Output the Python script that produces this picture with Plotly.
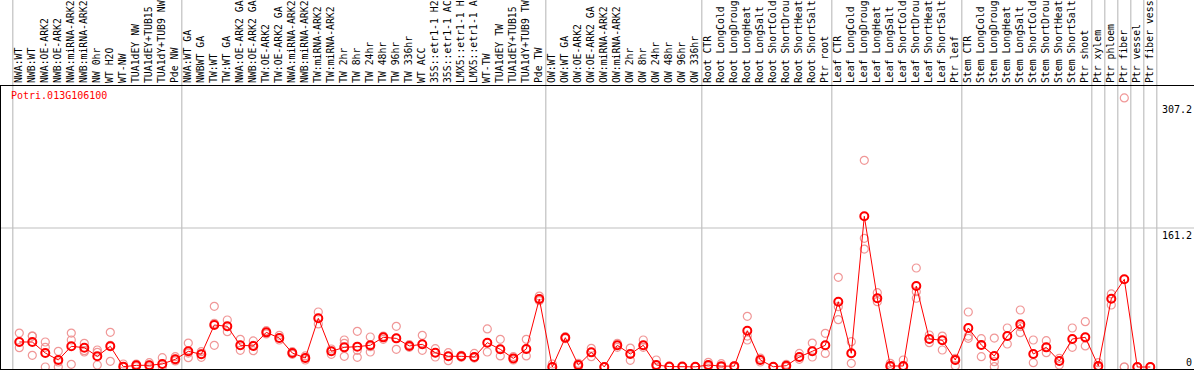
import plotly.graph_objects as go

categories = [
    "NWA:WT", "NWB:WT", "NWA:OE-ARK2", "NWB:OE-ARK2", "NWA:miRNA-ARK2", "NWB:miRNA-ARK2",
    "NW 0hr", "WT H2O", "WT-NW", "TUA1dEY NW", "TUA1dEY+TUB15", "TUA1dY+TUB9 NW", "Pde NW",
    "NWA:WT GA", "NWBWT GA", "TW:WT", "TW:WT GA", "NWA:OE-ARK2 GA", "NWB:OE-ARK2 GA",
    "TW:OE-ARK2", "TW:OE-ARK2 GA", "NWA:miRNA-ARK2", "NWB:miRNA-ARK2", "TW:miRNA-ARK2",
    "TW:miRNA-ARK2", "TW 2hr", "TW 8hr", "TW 24hr", "TW 48hr", "TW 96hr", "TW 336hr",
    "WT ACC", "35S::etr1-1 H2O", "35S::etr1-1 ACC", "LMX5::etr1-1 H2O", "LMX5::etr1-1 ACC",
    "WT-TW", "TUA1dEY TW", "TUA1dEY+TUB15", "TUA1dY+TUB9 TW", "Pde TW",
    "OW:WT", "OW:WT GA", "OW:OE-ARK2", "OW:OE-ARK2 GA", "OW:miRNA-ARK2", "OW:miRNA-ARK2",
    "OW 2hr", "OW 8hr", "OW 24hr", "OW 48hr", "OW 96hr", "OW 336hr",
    "Root CTR", "Root LongCold", "Root LongDrought", "Root LongHeat", "Root LongSalt",
    "Root ShortCold", "Root ShortDrought", "Root ShortHeat", "Root ShortSalt", "Ptr root",
    "Leaf CTR", "Leaf LongCold", "Leaf LongDrought", "Leaf LongHeat", "Leaf LongSalt",
    "Leaf ShortCold", "Leaf ShortDrought", "Leaf ShortHeat", "Leaf ShortSalt", "Ptr leaf",
    "Stem CTR", "Stem LongCold", "Stem LongDrought", "Stem LongHeat", "Stem LongSalt",
    "Stem ShortCold", "Stem ShortDrought", "Stem ShortHeat", "Stem ShortSalt", "Ptr shoot",
    "Ptr xylem", "Ptr phloem", "Ptr fiber", "Ptr vessel", "Ptr fiber vessel",
]

mean_values = [
    29.0, 29.0, 16.2, 8.1, 24.0, 22.4, 12.4, 24.0, 0.4, 1.9, 2.0, 3.5, 8.9,
    18.2, 14.7, 48.7, 47.2, 25.2, 24.4, 40.2, 33.6, 16.2, 10.4, 56.5, 18.2,
    22.8, 23.6, 25.2, 34.4, 33.2, 24.4, 26.3, 16.6, 12.4, 12.4, 11.6, 28.2,
    20.5, 10.0, 20.9, 78.9,
    0.0, 34.0, 2.3, 17.0, 0.0, 25.2, 15.1, 25.2, 2.3, 0.5, 0.5, 0.2,
    2.3, 1.0, 1.0, 42.1, 8.1, 0.3, 1.5, 11.6, 18.2, 25.2,
    75.7, 15.9, 174.8, 79.7, 1.2, 1.2, 93.9, 32.5, 31.0, 8.1,
    45.2, 25.5, 12.8, 36.0, 49.5, 15.1, 22.8, 7.0, 32.5, 34.4,
    1.2, 79.2, 101.7, 0.0, 0.0,
]

rep1 = [
    39.4, 35.9, 29.0, 18.2, 39.4, 27.4, 19.7, 40.2, 3.5, 3.5, 5.0, 10.8, 12.0,
    27.8, 17.8, 70.4, 54.5, 32.1, 30.2, 42.1, 36.7, 17.8, 12.8, 63.8, 20.9,
    31.3, 41.4, 34.8, 35.9, 47.2, 25.9, 36.7, 21.3, 16.6, 13.5, 15.8, 44.1,
    32.1, 12.0, 32.1, 82.3,
    3.5, 35.2, 4.3, 21.6, 0.0, 27.4, 22.0, 31.3, 8.1, 0.0, 0.0, 0.4,
    5.4, 3.9, 1.2, 58.8, 10.4, 0.0, 3.1, 15.8, 27.8, 39.0,
    104.0, 29.4, 239.7, 86.2, 4.3, 8.1, 114.8, 37.1, 35.9, 10.1,
    63.8, 32.9, 33.6, 45.2, 66.1, 31.3, 30.5, 10.1, 45.2, 52.6,
    5.0, 84.7, 312.0, 0.0, 0.0,
]

rep2 = [
    29.0, 35.9, 22.8, 5.8, 31.3, 18.9, 17.0, 25.1, 0.4, 1.9, 2.3, 3.5, 8.9,
    16.2, 15.1, 50.6, 46.8, 25.1, 25.1, 40.2, 33.6, 16.2, 10.4, 56.4, 18.2,
    27.4, 19.3, 23.6, 34.4, 33.2, 24.4, 26.3, 16.6, 12.4, 12.4, 11.6, 28.2,
    20.5, 10.1, 20.9, 78.9,
    0.0, 34.0, 2.3, 17.0, 0.0, 25.1, 15.1, 25.1, 2.3, 0.0, 0.0, 0.0,
    2.3, 0.0, 0.0, 35.9, 8.1, 0.0, 0.4, 11.6, 18.2, 25.1,
    70.0, 15.8, 149.2, 79.7, 1.2, 0.0, 87.3, 32.5, 30.9, 8.1,
    35.9, 25.5, 6.2, 35.9, 46.8, 15.1, 22.8, 7.0, 32.5, 34.4,
    1.2, 79.3, 0.0, 0.0, 0.0,
]

rep3 = [
    22.4, 13.5, 0.0, 0.0, 3.1, 17.4, 2.3, 6.6, 0.0, 0.4, 0.0, 0.0, 7.0,
    10.8, 11.2, 25.1, 41.0, 19.3, 18.9, 38.3, 31.3, 14.7, 8.1, 49.9, 14.7,
    12.4, 11.2, 17.4, 32.1, 20.5, 22.8, 19.3, 11.6, 7.3, 11.2, 10.4, 17.4,
    12.8, 8.1, 12.8, 76.9,
    0.0, 32.9, 0.0, 12.0, 0.0, 22.8, 7.7, 22.8, 0.0, 0.0, 0.0, 0.0,
    0.4, 0.0, 0.0, 31.3, 5.8, 0.0, 0.0, 8.9, 11.6, 15.8,
    54.9, 4.3, 136.8, 75.7, 0.0, 0.0, 79.7, 28.2, 19.7, 1.2,
    33.2, 12.0, 0.4, 26.7, 39.8, 5.0, 16.6, 2.3, 22.8, 24.4,
    0.0, 71.9, 0.0, 0.0, 0.0,
]

group_boundaries = [-0.5, 12.5, 40.5, 52.5, 62.5, 72.5, 82.5, 83.5, 84.5, 85.5, 86.5, 87.5]
y_tick_values = [307.2, 161.2, 0]
gene_name = "Potri.013G106100"

x = list(range(len(categories)))
MONO = "DejaVu Sans Mono"

fig = go.Figure()
for rep in (rep1, rep2, rep3):
    fig.add_trace(go.Scatter(
        x=x, y=rep, mode="markers", cliponaxis=False, showlegend=False, hoverinfo="skip",
        marker=dict(symbol="circle-open", size=8, color="rgba(238,140,140,0.9)",
                    line=dict(width=1.2)),
    ))
fig.add_trace(go.Scatter(
    x=x, y=mean_values, mode="lines+markers", cliponaxis=False, showlegend=False,
    line=dict(color="#ff0000", width=1),
    marker=dict(symbol="circle-open", size=8, color="#ff0000", line=dict(width=2)),
))

shapes = []
for b in group_boundaries:
    shapes.append(dict(type="line", xref="x", yref="paper", x0=b, x1=b, y0=0, y1=1.31,
                       line=dict(color="#c0c0c0", width=1.2), layer="below"))
shapes.append(dict(type="line", xref="paper", yref="y", x0=0, x1=1.01, y0=161.2, y1=161.2,
                   line=dict(color="#c0c0c0", width=1.2), layer="below"))

annotations = []
label_y = {307.2: 307.2, 161.2: 161.2, 0: 5.8}
for v in y_tick_values:
    annotations.append(dict(
        xref="paper", yref="y", x=1.0, y=label_y[v],
        text=("%g" % v), showarrow=False, xanchor="right",
        yanchor="top" if v != 0 else "middle",
        font=dict(family=MONO, size=10, color="black"),
    ))
annotations.append(dict(
    xref="paper", yref="paper", x=0.0065, y=0.965, text=gene_name, showarrow=False,
    xanchor="left", yanchor="middle", font=dict(family=MONO, size=10, color="#ff0000"),
))

k = 0.8623
ymax = (367 - 86) / k
ymin = (367 - 369) / k
xmin = (1 - 19.3) / 13
xmax = (1194 - 19.3) / 13

fig.update_layout(
    width=1194, height=370,
    margin=dict(l=1, r=0, t=86, b=1, pad=0),
    paper_bgcolor="white", plot_bgcolor="white",
    shapes=shapes, annotations=annotations,
    xaxis=dict(
        range=[xmin, xmax], side="top", tickmode="array", tickvals=x, ticktext=categories,
        tickangle=-90, ticks="", showgrid=False, zeroline=False, automargin=False,
        showline=True, linecolor="black", linewidth=1, mirror=True,
        tickfont=dict(family=MONO, size=9.8, color="black"),
    ),
    yaxis=dict(
        range=[ymin, ymax], showticklabels=False, ticks="", showgrid=False, zeroline=False,
        showline=True, linecolor="black", linewidth=1, automargin=False,
    ),
)

fig.write_html(
    "out.html",
    config={"displayModeBar": False},
    post_script="document.body.style.margin='0';document.body.style.padding='0';"
                "document.body.style.overflow='hidden';",
)
